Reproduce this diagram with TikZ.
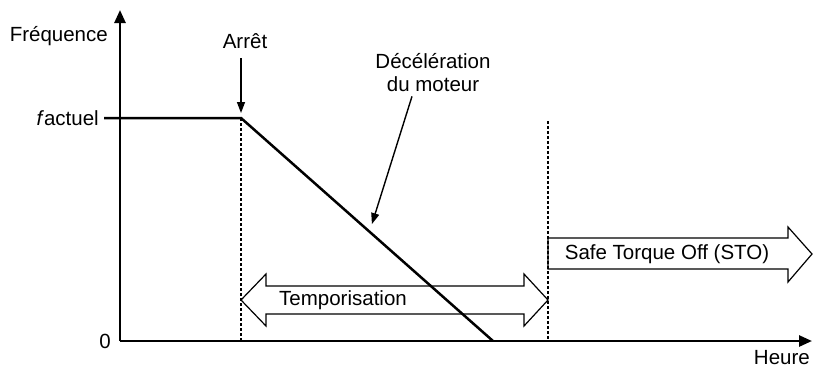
\documentclass[tikz,border=0pt]{standalone}
\usepackage{fontspec}
\setmainfont{Liberation Sans}
\usetikzlibrary{arrows.meta,calc}

\begin{document}
\begin{tikzpicture}[x=1pt,y=-1pt]
\tikzstyle{every node}+=[inner sep=0pt, font=\fontsize{20.5}{23}\selectfont]
\tikzstyle{axe}=[line width=2.6pt, -{Triangle[length=13pt,width=11pt]}]
\tikzstyle{trait}=[line width=2.5pt]
\tikzstyle{pointille}=[line width=1.2pt, dash pattern=on 3pt off 2pt]
\tikzstyle{fleche}=[line width=1.4pt, -{Triangle[length=11pt,width=8pt]}]
\tikzstyle{bloc}=[line width=1.2pt, line join=miter]
\useasboundingbox (0,0) rectangle (813,370);
% points de la courbe
\coordinate (O) at (120,341);
\coordinate (Ymax) at (120,10);
\coordinate (Xmax) at (812,341);
\coordinate (Fa) at (104,118);
\coordinate (A) at (241,118);
\coordinate (B) at (493,341);
\coordinate (S) at (548,121);
% pointilles
\draw [pointille] (A) -- (A |- O);
\draw [pointille] (S) -- (S |- O);
% axes
\draw [axe] (O) -- (Ymax);
\draw [axe] (O) -- (Xmax);
\node [anchor=east] (freq) at (108,36) {Fréquence};
\node [anchor=east] (fact) at (99,118) {\textit{f}actuel};
\node [anchor=east] (zero) at (111,341) {0};
\node [anchor=east] (heure) at (810,358) {Heure};
% frequence
\draw [trait] (Fa) -- (A) -- (B);
% fleches larges
\draw [bloc] (A |- 0,300) -- ++(25,-26) -- ++(0,12) -- (524,286) -- (524,274)
  -- (S |- 0,300) -- (524,326) -- (524,314) -- (266,314) -- (266,326) -- cycle;
\node (tempo) at (343,300) {Temporisation};
\draw [bloc] (548,238) -- (788,238) -- (788,227) -- (812,254) -- (788,282)
  -- (788,269) -- (548,269) -- cycle;
\node (sto) at (667,254) {Safe Torque Off (STO)};
% etiquettes
\node [anchor=base] (arret) at (245,48) {Arrêt};
\draw [fleche, shorten <=10pt, shorten >=5pt] (arret.south -| A) -- (A);
\node [align=center] (decel) at (433,73) {Décélération\\du moteur};
\coordinate (D) at ($(A)!0.51!(B)$);
\draw [fleche, shorten >=8pt] ([xshift=-21pt,yshift=-4pt]decel.south) -- (D);
\end{tikzpicture}
\end{document}
